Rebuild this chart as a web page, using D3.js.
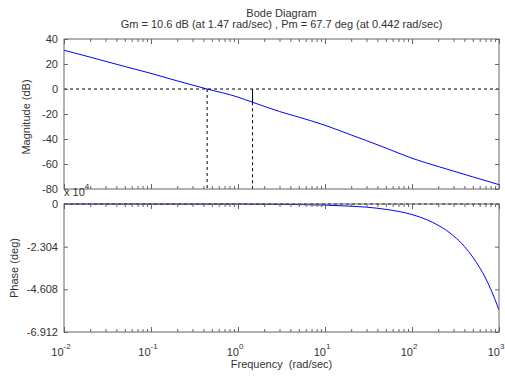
<!DOCTYPE html>
<html>
<head>
<meta charset="utf-8">
<script src="https://cdn.jsdelivr.net/npm/d3@7"></script>
<style>
  body { margin: 0; background: #fff; }
  text { font-family: Arial, "Liberation Sans", sans-serif; fill: #333; }
</style>
</head>
<body>
<div id="chart"></div>
<script>
// data
const freqMag = [0.01, 0.02, 0.05, 0.1, 0.2, 0.442, 1, 1.47, 3, 5, 10, 20, 30, 50, 100, 200, 500, 1000];
const magDb   = [31, 25.5, 18, 12.5, 6.5, 0, -6.5, -10.6, -18, -22.5, -29, -36.8, -41.3, -47.2, -55.4, -62, -70.3, -76.5];

// phase in units of 10^4 deg
const freqPh = [0.01, 1, 5, 10, 20, 30, 50, 70, 100, 150, 200, 250, 300, 350, 400, 500, 600, 700, 800, 900, 1000];
const phase  = [0, -0.006, -0.03, -0.06, -0.12, -0.17, -0.29, -0.4, -0.57, -0.86, -1.15, -1.43, -1.72, -2.0, -2.29, -2.87, -3.44, -4.0, -4.58, -5.16, -5.73];

const magTicks = [40, 20, 0, -20, -40, -60, -80];
const phTicks = [0, -2.304, -4.608, -6.912];
const decades = [-2, -1, 0, 1, 2, 3];

const gmFreq = 1.47, gmDb = -10.6, pmFreq = 0.442;

const width = 505, height = 378;
const left = 64, right = 499;
const magTop = 39, magBottom = 189;
const phTop = 204, phBottom = 332;
const axisColor = "#666";

const svg = d3.select("#chart")
  .append("svg")
    .attr("width", width)
    .attr("height", height);

const x = d3.scaleLog().domain([0.01, 1000]).range([left, right]);
const yMag = d3.scaleLinear().domain([-80, 40]).range([magBottom, magTop]);
const yPh = d3.scaleLinear().domain([-6.912, 0]).range([phBottom, phTop]);

// minor tick values on the log axis
const minor = [];
for (let e = -2; e < 3; e++) {
  for (let k = 2; k <= 9; k++) minor.push(k * Math.pow(10, e));
}
const major = decades.map(e => Math.pow(10, e));

function frame(top, bottom, y, yTicks) {
  const g = svg.append("g");
  // x ticks bottom and top
  [[d3.axisBottom, bottom], [d3.axisTop, top]].forEach(([ax, pos]) => {
    g.append("g")
      .attr("transform", `translate(0,${pos})`)
      .call(ax(x).tickValues(minor).tickSize(-3).tickFormat(""))
      .call(s => s.select(".domain").remove());
    g.append("g")
      .attr("transform", `translate(0,${pos})`)
      .call(ax(x).tickValues(major).tickSize(-5).tickFormat(""))
      .call(s => s.select(".domain").remove());
  });
  // y ticks left (with labels) and right
  g.append("g")
    .attr("transform", `translate(${left},0)`)
    .call(d3.axisLeft(y).tickValues(yTicks).tickSize(-4).tickPadding(6).tickFormat(d => String(d)))
    .call(s => s.select(".domain").remove());
  g.append("g")
    .attr("transform", `translate(${right},0)`)
    .call(d3.axisRight(y).tickValues(yTicks).tickSize(-4).tickFormat(""))
    .call(s => s.select(".domain").remove());
  g.selectAll(".tick line").attr("stroke", axisColor);
  g.selectAll(".tick text")
    .attr("fill", "#333")
    .style("font-family", "Arial, 'Liberation Sans', sans-serif")
    .style("font-size", "11px");
  g.append("rect")
    .attr("x", left).attr("y", top)
    .attr("width", right - left).attr("height", bottom - top)
    .attr("fill", "none")
    .attr("stroke", axisColor);
}

// clip for the curves
svg.append("clipPath").attr("id", "clipMag")
  .append("rect").attr("x", left).attr("y", magTop).attr("width", right - left).attr("height", magBottom - magTop);
svg.append("clipPath").attr("id", "clipPh")
  .append("rect").attr("x", left).attr("y", phTop - 1).attr("width", right - left).attr("height", phBottom - phTop + 1);

// magnitude curve
const magLine = d3.line()
  .x((d, i) => x(freqMag[i]))
  .y(d => yMag(d))
  .curve(d3.curveMonotoneX);

svg.append("path")
  .datum(magDb)
  .attr("clip-path", "url(#clipMag)")
  .attr("fill", "none")
  .attr("stroke", "#0000ff")
  .attr("d", magLine);

// margins markers
svg.append("line")
  .attr("x1", left).attr("x2", right)
  .attr("y1", yMag(0)).attr("y2", yMag(0))
  .attr("stroke", "#000").attr("stroke-dasharray", "3,3");
svg.append("line")
  .attr("x1", x(pmFreq)).attr("x2", x(pmFreq))
  .attr("y1", yMag(0)).attr("y2", magBottom)
  .attr("stroke", "#000").attr("stroke-dasharray", "3,3");
svg.append("line")
  .attr("x1", x(gmFreq)).attr("x2", x(gmFreq))
  .attr("y1", yMag(0)).attr("y2", yMag(gmDb))
  .attr("stroke", "#000");
svg.append("line")
  .attr("x1", x(gmFreq)).attr("x2", x(gmFreq))
  .attr("y1", yMag(gmDb)).attr("y2", magBottom)
  .attr("stroke", "#000").attr("stroke-dasharray", "3,3");

// phase curve
const phLine = d3.line()
  .x((d, i) => x(freqPh[i]))
  .y(d => yPh(d))
  .curve(d3.curveMonotoneX);

svg.append("path")
  .datum(phase)
  .attr("clip-path", "url(#clipPh)")
  .attr("fill", "none")
  .attr("stroke", "#0000ff")
  .attr("d", phLine);

svg.append("line")
  .attr("x1", left).attr("x2", right)
  .attr("y1", yPh(0)).attr("y2", yPh(0))
  .attr("stroke", "#000").attr("stroke-dasharray", "3,3");

frame(magTop, magBottom, yMag, magTicks);
frame(phTop, phBottom, yPh, phTicks);

// x tick labels 10^n
const xl = svg.append("g").selectAll("text")
  .data(decades)
  .join("text")
    .attr("x", d => x(Math.pow(10, d)) - 3)
    .attr("y", 356)
    .attr("text-anchor", "middle")
    .style("font-size", "11px");
xl.append("tspan").text("10");
xl.append("tspan").attr("dy", -7).style("font-size", "8px").text(d => d);

// exponent label for phase axis
const ex = svg.append("text")
  .attr("x", left)
  .attr("y", 196)
  .style("font-size", "11px");
ex.append("tspan").text("x 10");
ex.append("tspan").attr("dy", -7).style("font-size", "8px").text("4");

// titles and axis labels
svg.append("text")
  .attr("x", (left + right) / 2).attr("y", 17)
  .attr("text-anchor", "middle")
  .style("font-size", "11px")
  .text("Bode Diagram");
svg.append("text")
  .attr("x", (left + right) / 2).attr("y", 28)
  .attr("text-anchor", "middle")
  .style("font-size", "11px")
  .text("Gm = 10.6 dB (at 1.47 rad/sec) ,  Pm = 67.7 deg (at 0.442 rad/sec)");
svg.append("text")
  .attr("x", (left + right) / 2).attr("y", 368)
  .attr("text-anchor", "middle")
  .style("font-size", "11px")
  .style("white-space", "pre")
  .text("Frequency  (rad/sec)");
svg.append("text")
  .attr("transform", `translate(30,${(magTop + magBottom) / 2 + 3}) rotate(-90)`)
  .attr("text-anchor", "middle")
  .style("font-size", "11px")
  .text("Magnitude (dB)");
svg.append("text")
  .attr("transform", `translate(18,${(phTop + phBottom) / 2}) rotate(-90)`)
  .attr("text-anchor", "middle")
  .style("font-size", "11px")
  .text("Phase (deg)");
</script>
</body>
</html>
